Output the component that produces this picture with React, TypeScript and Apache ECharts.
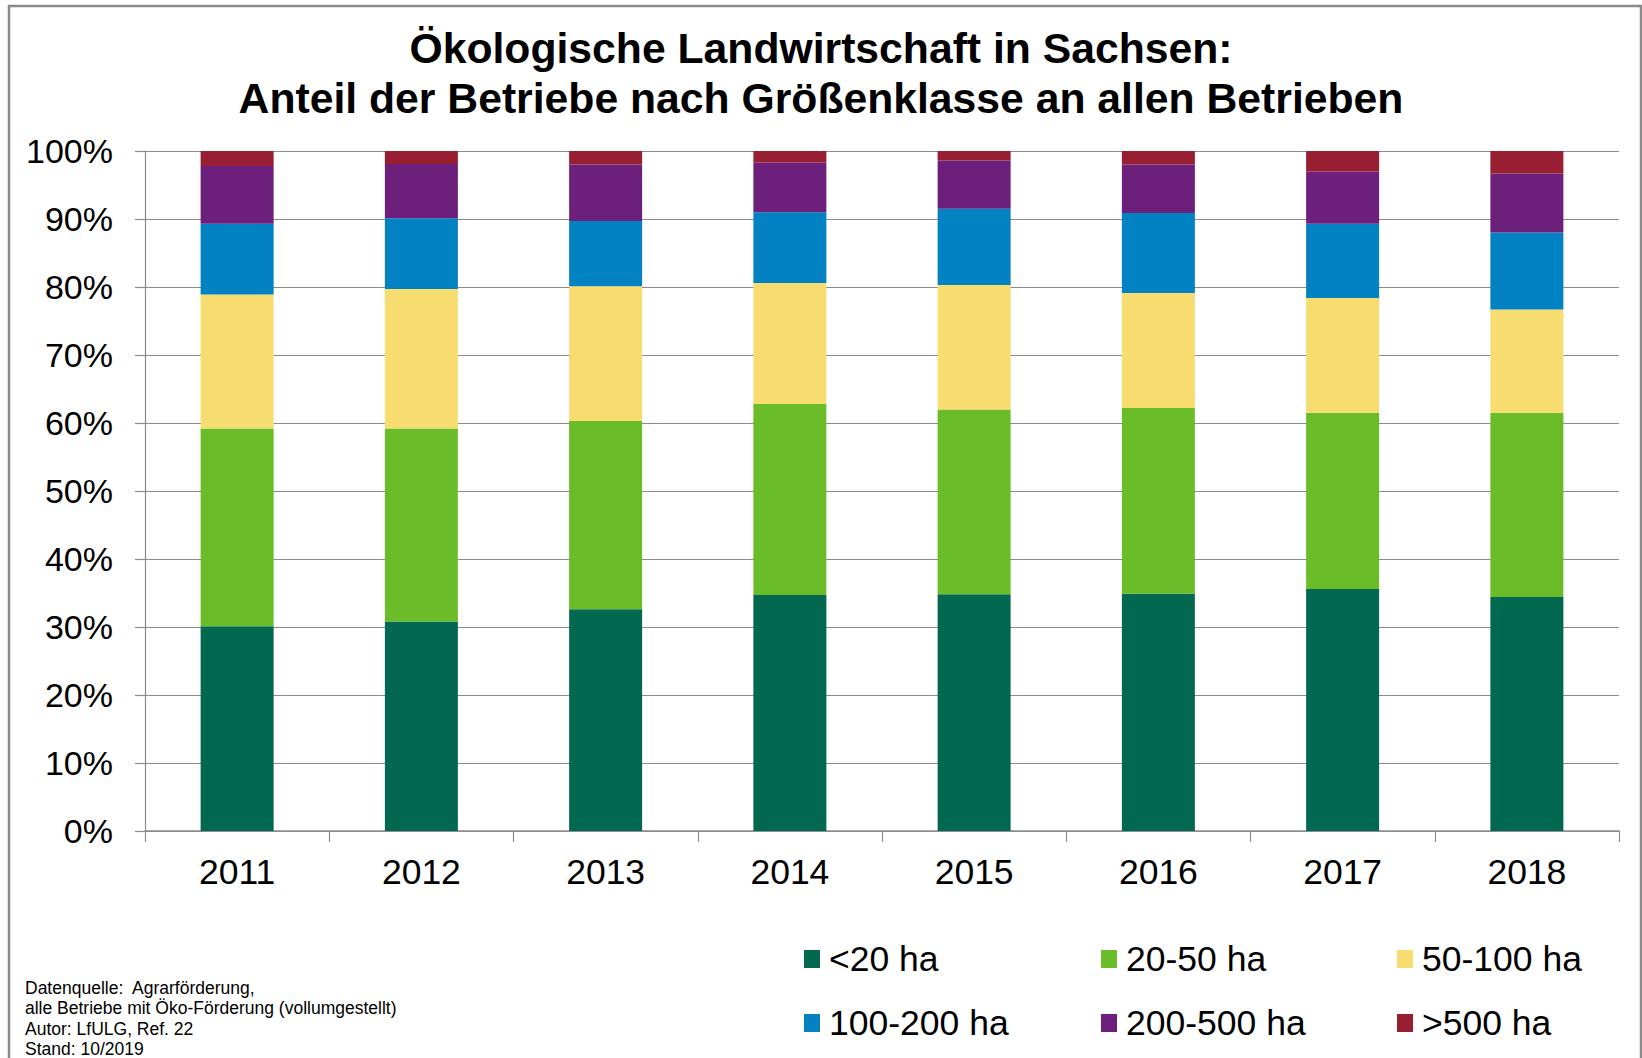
import React, { useEffect, useRef } from "react";
import * as echarts from "echarts";

const years = ["2011", "2012", "2013", "2014", "2015", "2016", "2017", "2018"];
const seriesNames = ["<20 ha", "20-50 ha", "50-100 ha", "100-200 ha", "200-500 ha", ">500 ha"];
const seriesColors = ["#02684F", "#6ABD28", "#F7DC6F", "#0382C3", "#6C1F7B", "#981F31"];

const under20 = [30.1, 30.8, 32.6, 34.7, 34.8, 34.9, 35.6, 34.4];
const from20to50 = [29.1, 28.4, 27.7, 28.1, 27.2, 27.3, 25.9, 27.1];
const from50to100 = [19.7, 20.5, 19.8, 17.8, 18.3, 16.9, 16.9, 15.2];
const from100to200 = [10.4, 10.4, 9.6, 10.4, 11.2, 11.8, 10.9, 11.3];
const from200to500 = [8.5, 8.0, 8.3, 7.3, 7.1, 7.1, 7.7, 8.7];
const over500 = [2.2, 1.9, 2.0, 1.7, 1.4, 2.0, 3.0, 3.3];

const yTicks = { min: 0, max: 100, interval: 10 };

const titleLines = [
  "Ökologische Landwirtschaft in Sachsen:",
  "Anteil der Betriebe nach Größenklasse an allen Betrieben",
];
const footnoteLines = [
  "Datenquelle:  Agrarförderung,",
  "alle Betriebe mit Öko-Förderung (vollumgestellt)",
  "Autor: LfULG, Ref. 22",
  "Stand: 10/2019",
];

const FONT = "'Liberation Sans', Arial, sans-serif";

export default function App() {
  const ref = useRef<HTMLDivElement>(null);

  useEffect(() => {
    document.body.style.margin = "0";
    if (!ref.current) return;
    const chart = echarts.init(ref.current, undefined, { renderer: "svg" });

    const allValues = [under20, from20to50, from50to100, from100to200, from200to500, over500];
    const gridColor = "#8C8C8C";

    const legendCols = [804, 1101, 1397];
    const legendRows = [941, 1005];
    const legends = seriesNames.map((name, i) => ({
      data: [name],
      left: legendCols[i % 3],
      top: legendRows[Math.floor(i / 3)],
      padding: 0,
      itemWidth: 16,
      itemHeight: 18,
      icon: "rect",
      selectedMode: false,
      textStyle: { fontSize: 35.5, color: "#000", fontFamily: FONT, padding: [0, 0, 0, 4] },
    }));

    chart.setOption({
      animation: false,
      backgroundColor: "#fff",
      title: {
        text: titleLines.join("\n"),
        left: "center",
        top: 18,
        padding: [5, 0, 5, 20],
        textStyle: {
          fontSize: 42.7,
          fontWeight: "bold",
          color: "#000",
          fontFamily: FONT,
          lineHeight: 50,
        },
      },
      legend: legends,
      grid: { left: 145, right: 23, top: 151, bottom: 227, containLabel: false },
      xAxis: {
        type: "category",
        data: years,
        axisLine: { show: true, lineStyle: { color: gridColor, width: 1.5 } },
        axisTick: { show: true, interval: 0, length: 11, lineStyle: { color: gridColor, width: 1.2 } },
        axisLabel: { margin: 23, fontSize: 35.5, color: "#000", fontFamily: FONT },
      },
      yAxis: {
        type: "value",
        min: yTicks.min,
        max: yTicks.max,
        interval: yTicks.interval,
        axisLine: { show: true, lineStyle: { color: gridColor, width: 1.2 } },
        axisTick: { show: true, length: 10, lineStyle: { color: gridColor, width: 1.2 } },
        axisLabel: { margin: 32, fontSize: 34, color: "#000", fontFamily: FONT, formatter: "{value}%" },
        splitLine: { show: true, lineStyle: { color: gridColor, width: 1.2 } },
      },
      series: seriesNames.map((name, i) => ({
        name,
        type: "bar",
        stack: "total",
        barWidth: 73,
        data: allValues[i],
        itemStyle: { color: seriesColors[i] },
      })),
      graphic: [
        {
          type: "rect",
          shape: { x: 9, y: 6, width: 1632, height: 1100 },
          style: { fill: "none", stroke: "#8A8A8A", lineWidth: 2.5 },
          silent: true,
        },
        {
          type: "text",
          x: 25,
          y: 978,
          style: {
            text: footnoteLines.join("\n"),
            fontSize: 17.5,
            fontFamily: FONT,
            fill: "#000",
            lineHeight: 20.3,
          },
        },
      ],
    });

    return () => chart.dispose();
  }, []);

  return <div ref={ref} style={{ width: 1642, height: 1058 }} />;
}
